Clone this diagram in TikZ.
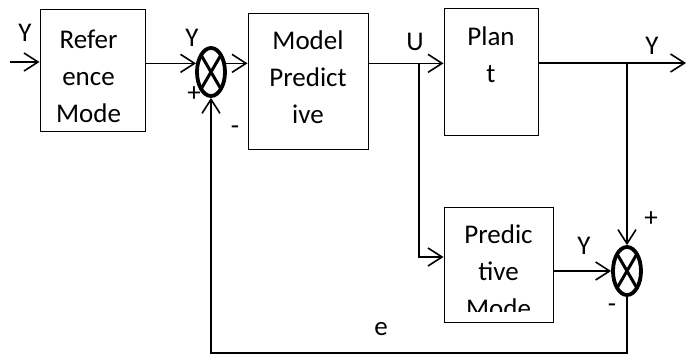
\documentclass[tikz,border=0pt]{standalone}
\usepackage{fontspec}
\setmainfont{Carlito}
\usetikzlibrary{arrows.meta,shapes.geometric}

\tikzset{
  block/.style={draw, line width=1pt, inner sep=0pt},
  txt/.style={align=center, inner sep=0pt},
  sum/.style={ellipse, draw, line width=3.8pt, minimum width=28pt, minimum height=48pt, inner sep=0pt,
    path picture={\draw[line width=3pt]
      (path picture bounding box.north west) -- (path picture bounding box.south east)
      (path picture bounding box.north east) -- (path picture bounding box.south west);}}
}

\begin{document}
\begin{tikzpicture}[x=1pt, y=-1pt, >={Straight Barb[length=14pt,width=18pt]}, line width=1.6pt,
  font=\fontsize{27}{37}\selectfont]
\useasboundingbox (0,0) rectangle (694,356);

%% Bloecke
\node[block, minimum width=105pt, minimum height=122pt] (ref) at (92.5,70) {};
\node[block, minimum width=120pt, minimum height=136pt] (mpc) at (308,81) {};
\node[block, minimum width=94pt, minimum height=127pt] (plant) at (491,71.5) {};
\node[block, minimum width=109pt, minimum height=115pt] (pm) at (498.5,264.5) {};

\node[txt, anchor=north] (reftxt) at ([xshift=-4pt, yshift=-21pt]ref.north) {Refer\\ence\\Mode};
\node[txt, anchor=north] (mpctxt) at ([yshift=-17pt]mpc.north) {Model\\Predict\\ive};
\node[txt, anchor=north] (planttxt) at ([yshift=-18pt]plant.north) {Plan\\t};
%% letzte Zeile wird unten abgeschnitten
\begin{scope}
\clip (pm.north west) rectangle ([yshift=11pt]pm.south east);
\node[txt, anchor=north] (pmtxt) at ([yshift=-17pt]pm.north) {Predic\\tive\\Mode};
\end{scope}

%% Summierstellen
\node[sum] (sum1) at (211,72) {};
\node[sum] (sum2) at (627,271) {};

%% Verbindungen
\coordinate (in) at (10,62);
\draw[->] (in) -- (in -| ref.west);
\draw[->] (ref.east |- sum1.150) -- (sum1.150);
\draw[->] (sum1.30) -- (sum1.30 -| mpc.west);
\draw[->] (mpc.east |- sum1.30) -- (sum1.30 -| plant.west);

\coordinate (ujoin) at (419,63);
\coordinate (ubend) at (419,257);
\draw[->] (ujoin) -- (ubend) -- (ubend -| pm.west);

\coordinate (yend) at (686,63);
\draw[->] (plant.east |- yend) -- (yend);
\draw[->] (sum2.north |- yend) -- (sum2.north);
\draw[->] (pm.east |- sum2.west) -- (sum2.west);

\coordinate (fbot) at (0,353);
\draw[->] (sum2.south) -- (sum2.south |- fbot) -| (sum1.south);

%% Beschriftungen
\node (yin) at (25,33) {Y};
\node (ysum) at (192,38) {Y};
\node (plus1) at (194,94) {+};
\node (minus1) at (235,130) {-};
\node (ulab) at (415,42) {U};
\node (ylab) at (652,46) {Y};
\node (ypm) at (584,246) {Y};
\node (plus2) at (651,219) {+};
\node (minus2) at (612,308) {-};
\node (elab) at (381,329) {e};
\end{tikzpicture}
\end{document}
